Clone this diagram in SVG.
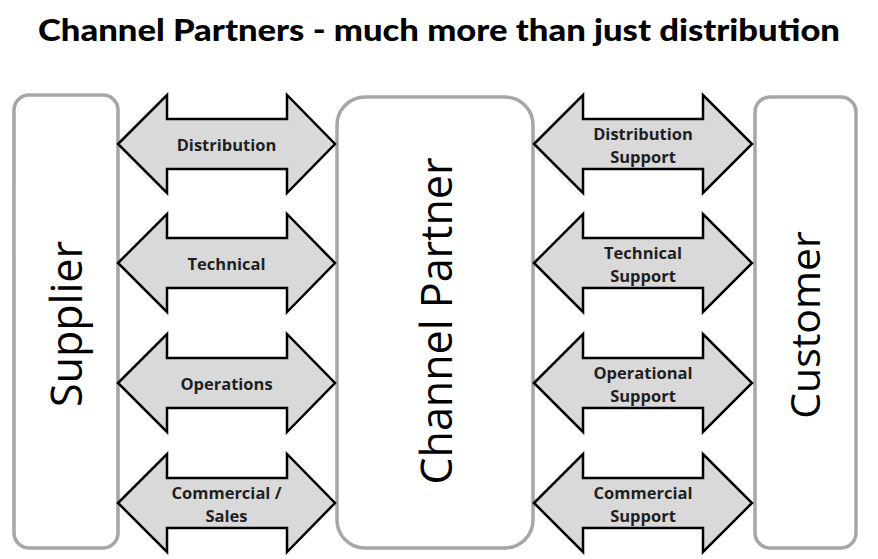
<svg xmlns="http://www.w3.org/2000/svg" width="878" height="559" viewBox="0 0 878 559">
<style>
.box{fill:#fff;stroke:#a6a6a6;stroke-width:3.5}
.arr{fill:#d9d9d9;stroke:#000;stroke-width:2.5;stroke-linejoin:miter}
.lbl{font-family:"Open Sans","Liberation Sans",sans-serif;font-weight:700;font-size:16.5px;fill:#1f1f1f;text-anchor:middle}
.big{font-family:"Open Sans","Liberation Sans",sans-serif;font-size:43px;fill:#000;text-anchor:middle}
.title{font-family:Lato,"Liberation Sans",sans-serif;font-weight:900;font-size:30px;fill:#000;text-anchor:middle}
</style>
<defs>
<path id="arrL" d="M118,0 L167,-49 L167,-25 L287,-25 L287,-49 L335,0 L287,49 L287,25 L167,25 L167,49 Z"/>
<path id="arrR" d="M534,0 L583,-49 L583,-25 L703,-25 L703,-49 L752,0 L703,49 L703,25 L583,25 L583,49 Z"/>
</defs>
<rect width="878" height="559" fill="#fff"/>
<text class="title" x="439" y="41" textLength="802" lengthAdjust="spacingAndGlyphs">Channel Partners - much more than just distribution</text>

<g id="supplier">
<rect class="box" x="14" y="95" width="104" height="453" rx="15"/>
<text class="big" transform="translate(82,324) rotate(-90)">Supplier</text>
</g>
<g id="channel-partner">
<rect class="box" x="337" y="97" width="196" height="451" rx="28"/>
<text class="big" transform="translate(452,321) rotate(-90)">Channel Partner</text>
</g>
<g id="customer">
<rect class="box" x="755" y="97" width="101" height="451" rx="15"/>
<text class="big" style="font-size:41px" transform="translate(820,325) rotate(-90)">Customer</text>
</g>

<g id="connectors">
<g id="distribution">
<use href="#arrL" class="arr" transform="translate(0,144)"/>
<text class="lbl" x="226.5" y="150.5">Distribution</text>
</g>
<g id="technical">
<use href="#arrL" class="arr" transform="translate(0,263)"/>
<text class="lbl" x="226.5" y="269.5">Technical</text>
</g>
<g id="operations">
<use href="#arrL" class="arr" transform="translate(0,383)"/>
<text class="lbl" x="226.5" y="389.5">Operations</text>
</g>
<g id="commercial-sales">
<use href="#arrL" class="arr" transform="translate(0,503)"/>
<text class="lbl" x="226.5" y="499">Commercial /</text>
<text class="lbl" x="226.5" y="521.5">Sales</text>
</g>
<g id="distribution-support">
<use href="#arrR" class="arr" transform="translate(0,144)"/>
<text class="lbl" x="643" y="139.5">Distribution</text>
<text class="lbl" x="643" y="163">Support</text>
</g>
<g id="technical-support">
<use href="#arrR" class="arr" transform="translate(0,263)"/>
<text class="lbl" x="643" y="258.5">Technical</text>
<text class="lbl" x="643" y="282">Support</text>
</g>
<g id="operational-support">
<use href="#arrR" class="arr" transform="translate(0,383)"/>
<text class="lbl" x="643" y="378.5">Operational</text>
<text class="lbl" x="643" y="402">Support</text>
</g>
<g id="commercial-support">
<use href="#arrR" class="arr" transform="translate(0,503)"/>
<text class="lbl" x="643" y="498.5">Commercial</text>
<text class="lbl" x="643" y="522">Support</text>
</g>
</g>
</svg>
